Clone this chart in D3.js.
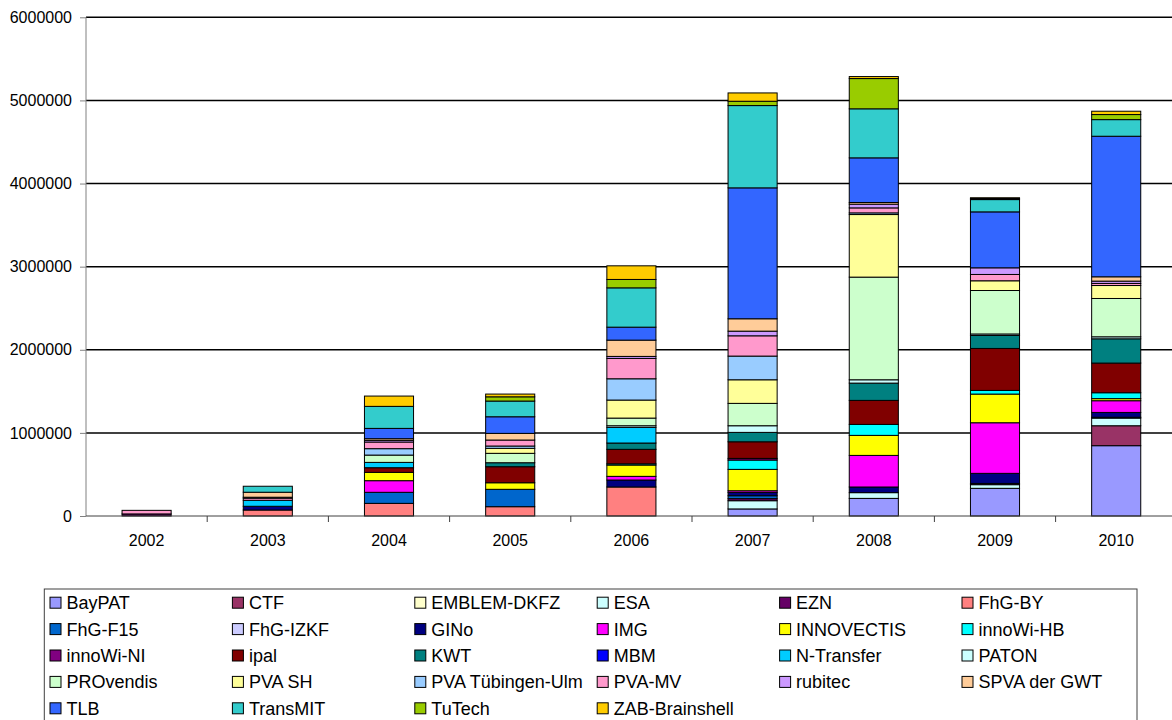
<!DOCTYPE html>
<html>
<head>
<meta charset="utf-8">
<script src="https://cdn.jsdelivr.net/npm/d3@7"></script>
<style>
  html, body { margin: 0; padding: 0; background: #fff; }
  svg { display: block; font-family: "Liberation Sans", Arial, sans-serif; }
</style>
</head>
<body>
<svg id="chart" width="1172" height="720"></svg>
<script>
// ---- Data ----
const years = ["2002", "2003", "2004", "2005", "2006", "2007", "2008", "2009", "2010"];
const yTicks = [0, 1000000, 2000000, 3000000, 4000000, 5000000, 6000000];

const seriesNames = ["BayPAT", "CTF", "EMBLEM-DKFZ", "ESA", "EZN", "FhG-BY", "FhG-F15", "FhG-IZKF",
  "GINo", "IMG", "INNOVECTIS", "innoWi-HB", "innoWi-NI", "ipal", "KWT", "MBM", "N-Transfer",
  "PATON", "PROvendis", "PVA SH", "PVA Tübingen-Ulm", "PVA-MV", "rubitec", "SPVA der GWT",
  "TLB", "TransMIT", "TuTech", "ZAB-Brainshell"];

const seriesColors = ["#9999FF", "#993366", "#FFFFCC", "#CCFFFF", "#660066", "#FF8080", "#0066CC", "#CCCCFF",
  "#000080", "#FF00FF", "#FFFF00", "#00FFFF", "#800080", "#800000", "#008080", "#0000FF", "#00CCFF",
  "#CCFFFF", "#CCFFCC", "#FFFF99", "#99CCFF", "#FF99CC", "#CC99FF", "#FFCC99",
  "#3366FF", "#33CCCC", "#99CC00", "#FFCC00"];

// values per series, 2002 .. 2010
const BayPAT      = [0, 0, 0, 0, 0, 85000, 212000, 333000, 846000];
const CTF         = [0, 0, 0, 0, 0, 0, 0, 0, 240000];
const EMBLEM_DKFZ = [0, 0, 0, 0, 0, 0, 0, 0, 0];
const ESA         = [0, 0, 0, 0, 0, 99000, 69000, 44000, 92000];
const EZN         = [25000, 0, 0, 0, 0, 25000, 0, 15000, 0];
const FhG_BY      = [0, 72000, 152000, 112000, 349000, 0, 0, 0, 0];
const FhG_F15     = [0, 0, 133000, 209000, 0, 35000, 0, 0, 10000];
const FhG_IZKF    = [0, 0, 0, 0, 0, 0, 0, 0, 0];
const GINo        = [0, 45000, 0, 0, 84000, 40000, 68000, 121000, 58000];
const IMG         = [0, 0, 140000, 0, 44000, 20000, 380000, 609000, 141000];
const INNOVECTIS  = [0, 0, 100000, 79000, 136000, 257000, 241000, 345000, 25000];
const innoWi_HB   = [0, 0, 0, 0, 15000, 112000, 132000, 44000, 71000];
const innoWi_NI   = [0, 0, 0, 0, 0, 20000, 0, 0, 0];
const ipal        = [0, 0, 56000, 193000, 174000, 200000, 289000, 505000, 357000];
const KWT         = [0, 0, 0, 48000, 76000, 113000, 208000, 156000, 292000];
const MBM         = [0, 0, 0, 0, 0, 0, 0, 0, 0];
const N_Transfer  = [0, 72000, 64000, 0, 188000, 0, 0, 0, 0];
const PATON       = [0, 0, 0, 0, 20000, 80000, 40000, 18000, 24000];
const PROvendis   = [0, 0, 88000, 113000, 92000, 269000, 1235000, 523000, 461000];
const PVA_SH      = [0, 0, 0, 60000, 217000, 284000, 753000, 117000, 156000];
const PVA_TU      = [0, 0, 77000, 28000, 256000, 285000, 20000, 0, 0];
const PVA_MV      = [43000, 25000, 80000, 72000, 245000, 244000, 60000, 76000, 25000];
const rubitec     = [0, 12000, 20000, 0, 24000, 56000, 45000, 80000, 28000];
const SPVA        = [0, 60000, 20000, 80000, 196000, 149000, 20000, 0, 52000];
const TLB         = [0, 0, 124000, 200000, 156000, 1575000, 537000, 673000, 1691000];
const TransMIT    = [0, 72000, 265000, 189000, 473000, 990000, 590000, 148000, 200000];
const TuTech      = [0, 0, 0, 51000, 101000, 52000, 364000, 12000, 61000];
const ZAB         = [0, 0, 124000, 33000, 164000, 100000, 24000, 10000, 40000];

const seriesValues = [BayPAT, CTF, EMBLEM_DKFZ, ESA, EZN, FhG_BY, FhG_F15, FhG_IZKF, GINo, IMG,
  INNOVECTIS, innoWi_HB, innoWi_NI, ipal, KWT, MBM, N_Transfer, PATON, PROvendis, PVA_SH, PVA_TU,
  PVA_MV, rubitec, SPVA, TLB, TransMIT, TuTech, ZAB];

// table for d3.stack
const table = years.map((y, i) => {
  const row = { year: y };
  seriesNames.forEach((s, k) => { row[s] = seriesValues[k][i]; });
  return row;
});

// ---- Layout ----
const svg = d3.select("#chart");
const W = 1172, H = 720;
const plotLeft = 86, plotTop = 17.3, plotBottom = 516;
const catStep = 121.2;

svg.append("rect").attr("width", W).attr("height", H).attr("fill", "#fff");

const x = d3.scaleBand().domain(years).range([plotLeft, plotLeft + catStep * years.length]).padding(0);
const y = d3.scaleLinear().domain([0, 6000000]).range([plotBottom, plotTop]);
const barW = x.bandwidth() * 0.405;

// gridlines
svg.append("g").selectAll("line").data(yTicks.filter(t => t > 0)).join("line")
  .attr("x1", plotLeft).attr("x2", W)
  .attr("y1", d => y(d)).attr("y2", d => y(d))
  .attr("stroke", "#000").attr("stroke-width", 1.5);

// stacked bars
const stack = d3.stack().keys(seriesNames);
const layers = stack(table);

const gBars = svg.append("g");
layers.forEach((layer, k) => {
  gBars.append("g")
    .attr("fill", seriesColors[k])
    .selectAll("rect")
    .data(layer.filter(d => d[1] - d[0] > 0))
    .join("rect")
    .attr("x", d => x(d.data.year) + (x.bandwidth() - barW) / 2)
    .attr("width", barW)
    .attr("y", d => y(d[1]))
    .attr("height", d => y(d[0]) - y(d[1]))
    .attr("stroke", "#000")
    .attr("stroke-width", 1);
});

// y axis
const yAxis = d3.axisLeft(y).tickValues(yTicks).tickSize(6).tickPadding(8).tickFormat(d3.format("d"));
const gy = svg.append("g").attr("transform", `translate(${plotLeft},0)`).call(yAxis);
gy.select(".domain").attr("stroke", "#808080").attr("d", `M0,${plotTop}V${plotBottom}`);
gy.selectAll(".tick line").attr("stroke", "#808080");
gy.selectAll(".tick text").attr("font-size", 16).attr("fill", "#000")
  .attr("font-family", "'Liberation Sans', Arial, sans-serif");

// x axis
const xAxis = d3.axisBottom(x).tickSize(0).tickPadding(19);
const gx = svg.append("g").attr("transform", `translate(0,${plotBottom})`).call(xAxis);
gx.select(".domain").attr("stroke", "#404040").attr("d", `M${plotLeft},0H${W}`);
gx.selectAll(".tick text").attr("font-size", 16).attr("fill", "#000")
  .attr("font-family", "'Liberation Sans', Arial, sans-serif");
// category boundary ticks
gx.append("g").selectAll("line").data(years.slice(1)).join("line")
  .attr("x1", d => x(d)).attr("x2", d => x(d))
  .attr("y1", 0).attr("y2", 6)
  .attr("stroke", "#404040");

// legend
const legLeft = 44.3, legTop = 589, legRight = 1137;
svg.append("rect")
  .attr("x", legLeft).attr("y", legTop)
  .attr("width", legRight - legLeft).attr("height", 140)
  .attr("fill", "#fff").attr("stroke", "#404040").attr("stroke-width", 1);

const colStep = 182.4, rowStep = 26.4, cols = 6;
const gLeg = svg.append("g");
const items = gLeg.selectAll("g").data(seriesNames).join("g")
  .attr("transform", (d, i) => `translate(${50 + (i % cols) * colStep},${602.7 + Math.floor(i / cols) * rowStep})`);
items.append("rect")
  .attr("x", 0).attr("y", -5.5).attr("width", 11).attr("height", 11)
  .attr("fill", (d, i) => seriesColors[i]).attr("stroke", "#000").attr("stroke-width", 1);
items.append("text")
  .attr("x", 16.5).attr("y", 0).attr("dy", "0.36em")
  .attr("font-size", 18).attr("fill", "#000")
  .text(d => d);
</script>
</body>
</html>
